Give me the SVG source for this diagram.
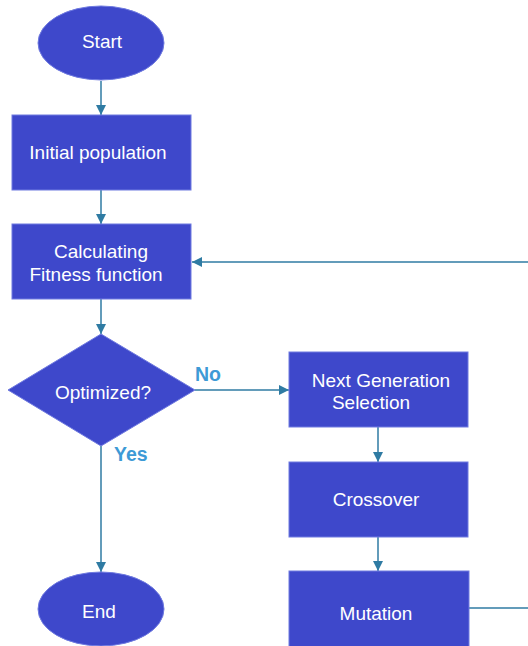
<svg xmlns="http://www.w3.org/2000/svg" width="528" height="646" viewBox="0 0 528 646">
<defs>
<style>
.n{fill:#3e48cb;stroke:#6f7ae0;stroke-width:1}
.t{fill:#ffffff;font-family:"Liberation Sans",Arial,sans-serif;font-size:19px;text-anchor:middle}
.c{fill:none;stroke:#2f7ba3;stroke-width:1.5}
.l{fill:#3d9ad6;font-family:"Liberation Sans",Arial,sans-serif;font-size:19.5px;font-weight:bold}
</style>
<marker id="a" viewBox="0 0 10 10" refX="10" refY="5" markerWidth="10" markerHeight="10" markerUnits="userSpaceOnUse" orient="auto">
<path d="M0,0 L10,5 L0,10 z" fill="#2f7ba3"/>
</marker>
</defs>
<rect width="528" height="646" fill="#ffffff"/>
<g id="connectors">
<line class="c" x1="101" y1="81" x2="101" y2="115" marker-end="url(#a)"/>
<line class="c" x1="101" y1="190" x2="101" y2="224" marker-end="url(#a)"/>
<line class="c" x1="101" y1="299" x2="101" y2="334" marker-end="url(#a)"/>
<line class="c" x1="101" y1="446" x2="101" y2="572" marker-end="url(#a)"/>
<line class="c" x1="195" y1="390" x2="289" y2="390" marker-end="url(#a)"/>
<line class="c" x1="378" y1="427" x2="378" y2="462" marker-end="url(#a)"/>
<line class="c" x1="378" y1="537" x2="378" y2="571" marker-end="url(#a)"/>
<line class="c" x1="469" y1="608" x2="528" y2="608"/>
<line class="c" x1="528" y1="262" x2="192" y2="262" marker-end="url(#a)"/>
<text class="l" x="195" y="381">No</text>
<text class="l" x="114" y="461">Yes</text>
</g>
<g id="start">
<ellipse class="n" cx="101" cy="43" rx="63" ry="37"/>
<text class="t" x="102" y="48">Start</text>
</g>
<g id="init">
<rect class="n" x="12" y="115" width="179" height="75"/>
<text class="t" x="98" y="159">Initial population</text>
</g>
<g id="fitness">
<rect class="n" x="12" y="224" width="179" height="75"/>
<text class="t" x="101" y="258">Calculating</text>
<text class="t" x="96" y="281">Fitness function</text>
</g>
<g id="optimized">
<polygon class="n" points="101,334 195,390 101,446 8,390"/>
<text class="t" x="103" y="399">Optimized?</text>
</g>
<g id="selection">
<rect class="n" x="289" y="352" width="179" height="75"/>
<text class="t" x="381" y="387">Next Generation</text>
<text class="t" x="371" y="409">Selection</text>
</g>
<g id="crossover">
<rect class="n" x="289" y="462" width="179" height="75"/>
<text class="t" x="376" y="506">Crossover</text>
</g>
<g id="mutation">
<rect class="n" x="289" y="571" width="180" height="76"/>
<text class="t" x="376" y="620">Mutation</text>
</g>
<g id="end">
<ellipse class="n" cx="101" cy="609" rx="63" ry="37"/>
<text class="t" x="99" y="618">End</text>
</g>
</svg>
